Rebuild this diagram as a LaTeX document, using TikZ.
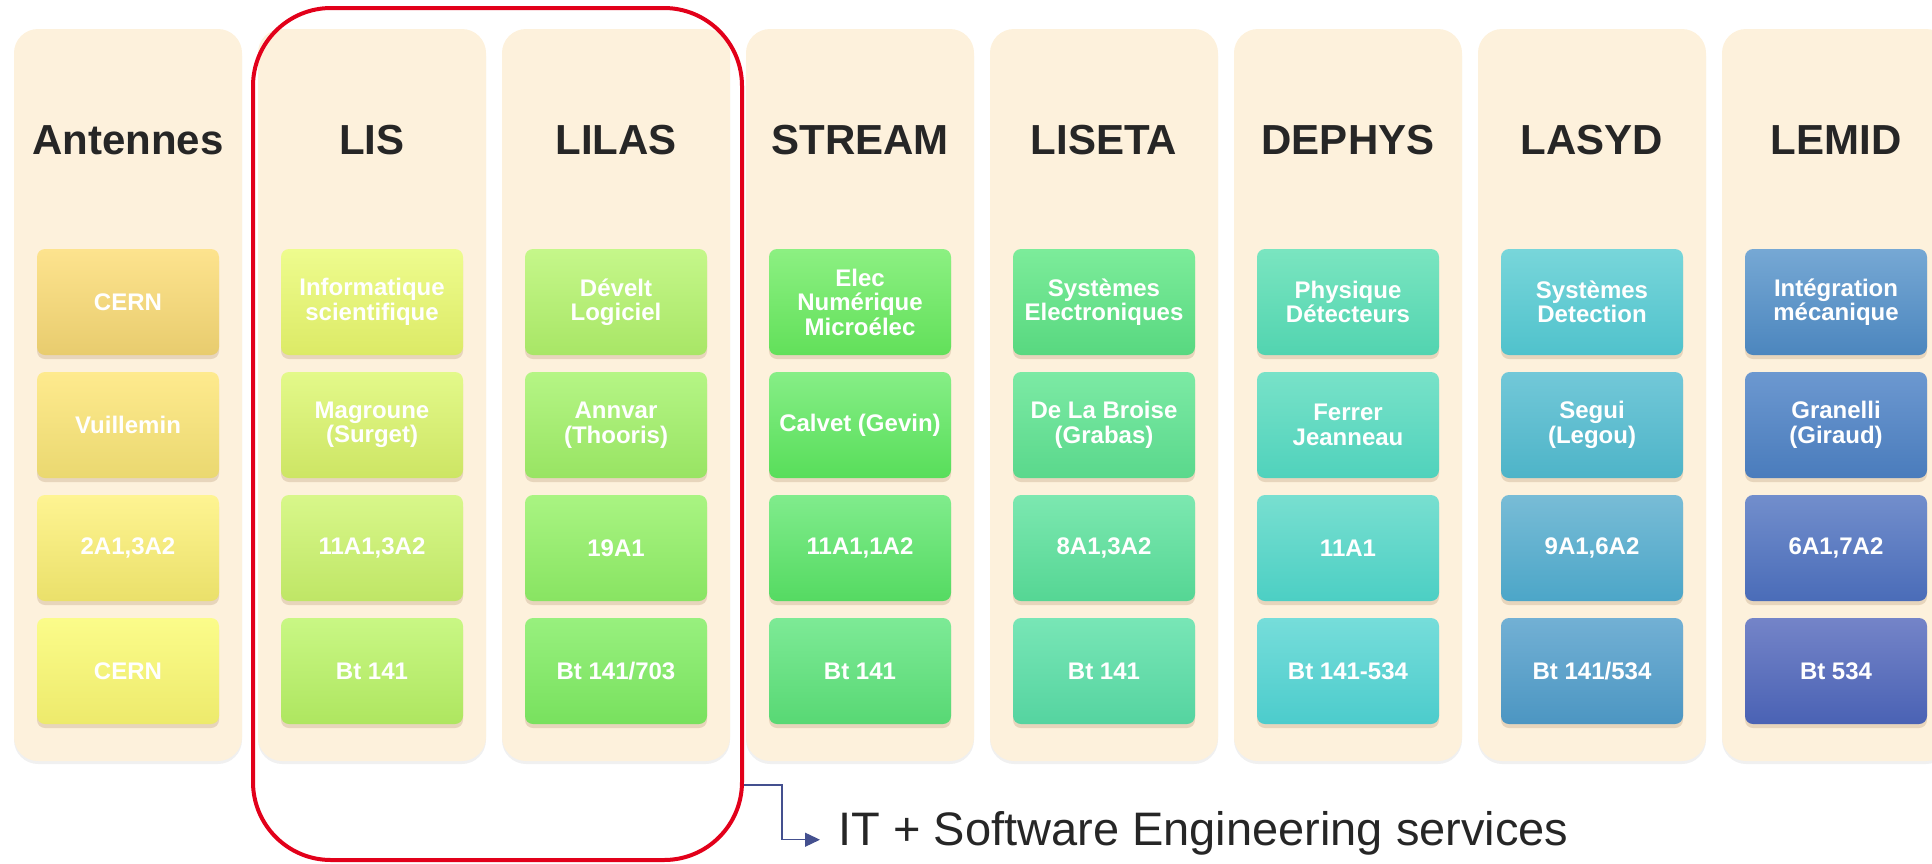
\documentclass[tikz,border=0pt]{standalone}
\usepackage{fontspec}
\setmainfont{Liberation Sans}
\usetikzlibrary{arrows.meta,shadows}

\definecolor{lanebg}{HTML}{FDF1DC}
\definecolor{titlegray}{HTML}{262626}
\definecolor{itred}{HTML}{E2001A}
\definecolor{itblue}{HTML}{44508F}
\newcommand\cellcols[3]{\definecolor{#1t}{HTML}{#2}\definecolor{#1b}{HTML}{#3}}
% cell colours, top / bottom of each gradient
\cellcols{a1}{FDE38E}{E8CC6E}\cellcols{a2}{FEEA8E}{EAD870}
\cellcols{a3}{FEF492}{EAE06A}\cellcols{a4}{FBFC8A}{EDEA6C}
\cellcols{b1}{EEFC8E}{DCEA66}\cellcols{b2}{E3F98A}{CDE564}
\cellcols{b3}{D8F78A}{BFE666}\cellcols{b4}{C9F784}{AEE660}
\cellcols{c1}{C5F78A}{A8E666}\cellcols{c2}{B5F585}{98E463}
\cellcols{c3}{A9F482}{88E462}\cellcols{c4}{98F07E}{78E15E}
\cellcols{d1}{8CF082}{62E05A}\cellcols{d2}{86EE86}{58DE5A}
\cellcols{d3}{80EC8C}{55DA62}\cellcols{d4}{7DEA96}{58D874}
\cellcols{e1}{7CEC9A}{58D880}\cellcols{e2}{7CEAA4}{5AD88C}
\cellcols{e3}{7CE8B0}{55D694}\cellcols{e4}{78E6B6}{55D4A0}
\cellcols{f1}{7AE5C0}{52D4B0}\cellcols{f2}{78E2C8}{50D2BC}
\cellcols{f3}{78DFD0}{4CCFC4}\cellcols{f4}{76DDDA}{4CCCCC}
\cellcols{g1}{78D6DA}{50C2CC}\cellcols{g2}{72C8D8}{4EB4C8}
\cellcols{g3}{78BCD6}{4CA6C8}\cellcols{g4}{72B0D4}{4C96C2}
\cellcols{h1}{76A8D4}{4C86BE}\cellcols{h2}{6C98D0}{4A7CBC}
\cellcols{h3}{728ECC}{4A6CB8}\cellcols{h4}{7484C8}{4A62B4}

\begin{document}
\begin{tikzpicture}[x=0.5pt, y=-0.5pt,
    lane/.style={rectangle, rounded corners=12pt, fill=lanebg, minimum width=114pt, minimum height=366pt,
      drop shadow={opacity=0.12, shadow xshift=0pt, shadow yshift=-1.5pt}},
    lanetitle/.style={text=titlegray, font=\fontsize{21}{24}\selectfont\bfseries, inner sep=0pt},
    cell/.style={rectangle, rounded corners=4pt, minimum width=91pt, minimum height=53pt, inner sep=1pt,
      align=center, text=white, font=\fontsize{12}{12.25}\selectfont\bfseries,
      drop shadow={opacity=0.18, shadow xshift=0pt, shadow yshift=-2pt, fill=brown!70!black}},
    itframe/.style={draw=itred, line width=2pt, rounded corners=39pt},
    itarrow/.style={draw=itblue, line width=0.65pt, -{Triangle[length=7.5pt,width=7pt]}}]
  \useasboundingbox (0,0) rectangle (1932,863);
  \clip (0,0) rectangle (1932,863);
  % Lanes with their four cells
  \foreach \col/\ttl/\ra/\rb/\rc/\rd [count=\k from 0] in {
      a/Antennes/CERN/Vuillemin/{2A1,3A2}/CERN,
      b/LIS/{Informatique\\scientifique}/{Magroune\\(Surget)}/{11A1,3A2}/{Bt 141},
      c/LILAS/{Dévelt\\Logiciel}/{Annvar\\(Thooris)}/19A1/{Bt 141/703},
      d/STREAM/{Elec\\Numérique\\Microélec}/{Calvet (Gevin)}/{11A1,1A2}/{Bt 141},
      e/LISETA/{Systèmes\\Electroniques}/{De La Broise\\(Grabas)}/{8A1,3A2}/{Bt 141},
      f/DEPHYS/{Physique\\Détecteurs}/{Ferrer\\Jeanneau}/11A1/{Bt 141-534},
      g/LASYD/{Systèmes\\Detection}/{Segui\\(Legou)}/{9A1,6A2}/{Bt 141/534},
      h/LEMID/{Intégration\\mécanique}/{Granelli\\(Giraud)}/{6A1,7A2}/{Bt 534}} {
    \node[lane] (lane-\col) at ({128+244*\k},395) {};
    \node[lanetitle] (title-\col) at ({128+244*\k},140) {\ttl};
    \node[cell, top color=\col1t, bottom color=\col1b] (\col-1) at ({128+244*\k},302) {\ra};
    \node[cell, top color=\col2t, bottom color=\col2b] (\col-2) at ({128+244*\k},425) {\rb};
    \node[cell, top color=\col3t, bottom color=\col3b] (\col-3) at ({128+244*\k},548) {\rc};
    \node[cell, top color=\col4t, bottom color=\col4b] (\col-4) at ({128+244*\k},671) {\rd};
  }
  % IT group and its label
  \node[itframe, minimum width=244.5pt, minimum height=426pt] (itgroup) at (497.5,434) {};
  \node[anchor=base west, inner sep=0pt, text=titlegray, font=\fontsize{23.5}{26}\selectfont]
    (itlabel) at (838,845) {IT + Software Engineering services};
  \coordinate (itbend) at (782,785);
  \draw[itarrow] (itgroup.east |- itbend) -- (itbend) |- ([xshift=-9pt]itlabel.mid west);
\end{tikzpicture}
\end{document}
